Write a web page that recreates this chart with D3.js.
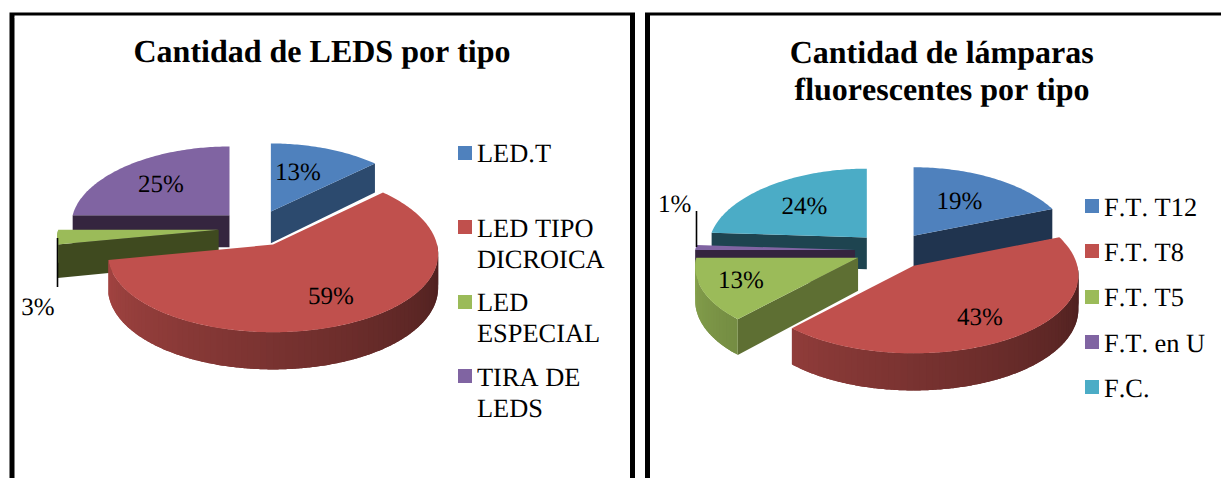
<!DOCTYPE html>
<html>
<head>
<meta charset="utf-8">
<script src="https://cdn.jsdelivr.net/npm/d3@7"></script>
<style>
  html, body { margin: 0; background: #fff; overflow: hidden; }
  text { font-family: "Liberation Serif", serif; fill: #000; text-rendering: geometricPrecision; font-kerning: none; }
</style>
</head>
<body>
<div id="chart"></div>
<script>
// Two exploded 3D pies (Excel style), drawn with d3.pie and a small projection

// Data
const ledLabels = ["LED.T", "LED TIPO DICROICA", "LED ESPECIAL", "TIRA DE LEDS"];
const ledValues = [13, 59, 3, 25];
const fluoLabels = ["F.T. T12", "F.T. T8", "F.T. T5", "F.T. en U", "F.C."];
const fluoValues = [19, 43, 13, 1, 24];

// Colors
const colors = ["#4f81bd", "#c0504d", "#9bbb59", "#8064a2", "#4bacc6"];
const ledSides = ["#2c4a6e", "#6e2c2a", "#3f4a1f", "#35253f"];
const fluoSides = ["#20344f", "#6e2c2a", "#5e6f33", "#35253f", "#1e4450"];

// Declare the dimensions.
const width = 1221, height = 478;
const radius = 160, explode = 37.5, depth = 32.5;
const tilt = 0.487, persX = 0.00075, persY = 0.00055;

const svg = d3.select("#chart")
  .append("svg")
  .attr("width", width)
  .attr("height", height)
  .style("display", "block");

// Panel borders, open at the bottom
const panels = [[12, 632.5], [647.5, 1227]];
panels.forEach(([x0, x1]) => {
  svg.append("path")
    .attr("d", `M${x0},${height + 5}V15H${x1}V${height + 5}`)
    .attr("fill", "none")
    .attr("stroke", "#000")
    .attr("stroke-width", 5);
  // the top line is thinner than the sides
  svg.append("rect")
    .attr("x", x0 + 2.5).attr("y", 15.5)
    .attr("width", x1 - x0 - 5).attr("height", 2.5)
    .attr("fill", "#fff");
});

const pie = d3.pie().sort(null);
const rad = d => d * Math.PI / 180;
const shade = d3.scaleLinear().domain([90, 180, 270]).range([0.38, 0.63, 0.88]);

function drawPie(values, sides, cx, cy) {
  const line = d3.line();

  const slices = pie(values).map((d, i) => {
    const mid = (d.startAngle + d.endAngle) / 2;
    return {
      i,
      a0: d.startAngle * 180 / Math.PI,
      a1: d.endAngle * 180 / Math.PI,
      ox: explode * Math.sin(mid),
      oy: explode * Math.cos(mid)
    };
  });
  // back to front
  slices.sort((a, b) => b.oy - a.oy);

  const g = svg.append("g");
  slices.forEach(s => {
    // disk coordinates (x from the slice tip, y to the back) to the screen
    const project = (x, y, z = 0) => {
      const k = 1 - persX * y;
      return [cx + s.ox + x * k, cy - y * (tilt - tilt * persY * y) + z * k];
    };
    const rim = (a, z = 0) => project(radius * Math.sin(rad(a)), s.oy + radius * Math.cos(rad(a)), z);
    const apex = (z = 0) => project(0, s.oy, z);
    const wall = (a) => g.append("path")
      .attr("d", line([apex(), rim(a), rim(a, depth), apex(depth)]) + "Z")
      .attr("fill", sides[s.i]);

    if (Math.sin(rad(s.a0)) < -1e-6) wall(s.a0);
    if (Math.sin(rad(s.a1)) > 1e-6) wall(s.a1);

    // Outer wall, front half only. Pieces overlap so no seams show.
    const w0 = Math.max(s.a0, 90), w1 = Math.min(s.a1, 270);
    for (let a = w0; a < w1; a += 2) {
      const b = Math.min(a + 4, w1);
      const arc = d3.range(a, b, 0.5).concat(b);
      g.append("path")
        .attr("d", line([...arc.map(t => rim(t)), ...arc.reverse().map(t => rim(t, depth))]) + "Z")
        .attr("fill", d3.interpolateRgb("#000", colors[s.i])(shade(a + 1)));
    }

    // Top face
    const pts = d3.range(s.a0, s.a1, 1).concat(s.a1).map(a => rim(a));
    g.append("path")
      .attr("d", line([apex(), ...pts]) + "Z")
      .attr("fill", colors[s.i]);
  });
}

drawPie(ledValues, ledSides, 256, 228);
drawPie(fluoValues, fluoSides, 892.5, 250.5);

// Leader lines
[[57.5, 238, 287], [696.5, 211, 247]].forEach(([x, y0, y1]) => {
  svg.append("line")
    .attr("x1", x).attr("x2", x).attr("y1", y0).attr("y2", y1)
    .attr("stroke", "#000").attr("stroke-width", 1.6);
});

// Text helper
const addText = (str, x, y, size, weight, anchor) => svg.append("text")
  .attr("x", x).attr("y", y)
  .attr("font-size", size)
  .attr("font-weight", weight || "normal")
  .attr("text-anchor", anchor || "start")
  .text(str);

// Titles
addText("Cantidad de LEDS por tipo", 322, 62, 32, "bold", "middle");
addText("Cantidad de lámparas", 941.7, 62.5, 32, "bold", "middle");
addText("fluorescentes por tipo", 942, 99.5, 32, "bold", "middle");

// Percent labels
const ledLabelPos = [[298, 171], [331, 295], [38, 306], [161, 183]];
const fluoLabelPos = [[959.5, 200], [980, 316], [741, 279], [674.7, 203], [804.5, 205.7]];
const percent = (values, pos) => values.forEach((v, i) => {
  addText(v + "%", pos[i][0], pos[i][1] + 8.5, 25, "normal", "middle");
});
percent(ledValues, ledLabelPos);
percent(fluoValues, fluoLabelPos);

// Legends
const legend = (i, x, swatchY, lines, lineY) => {
  svg.append("rect")
    .attr("x", x).attr("y", swatchY)
    .attr("width", 14).attr("height", 14)
    .attr("fill", colors[i]);
  lines.forEach((t, k) => addText(t, x + 19, lineY + k * 31, 26.4));
};
legend(0, 458, 146, ["LED.T"], 162);
legend(1, 458, 220, ["LED TIPO", "DICROICA"], 236.7);
legend(2, 458, 295, ["LED", "ESPECIAL"], 311);
legend(3, 458, 369, ["TIRA DE", "LEDS"], 386);
const fluoBaselines = [215.7, 261, 305.7, 351.7, 397];
[199, 244, 290, 335, 380].forEach((y, i) => legend(i, 1085, y, [fluoLabels[i]], fluoBaselines[i]));
</script>
</body>
</html>
